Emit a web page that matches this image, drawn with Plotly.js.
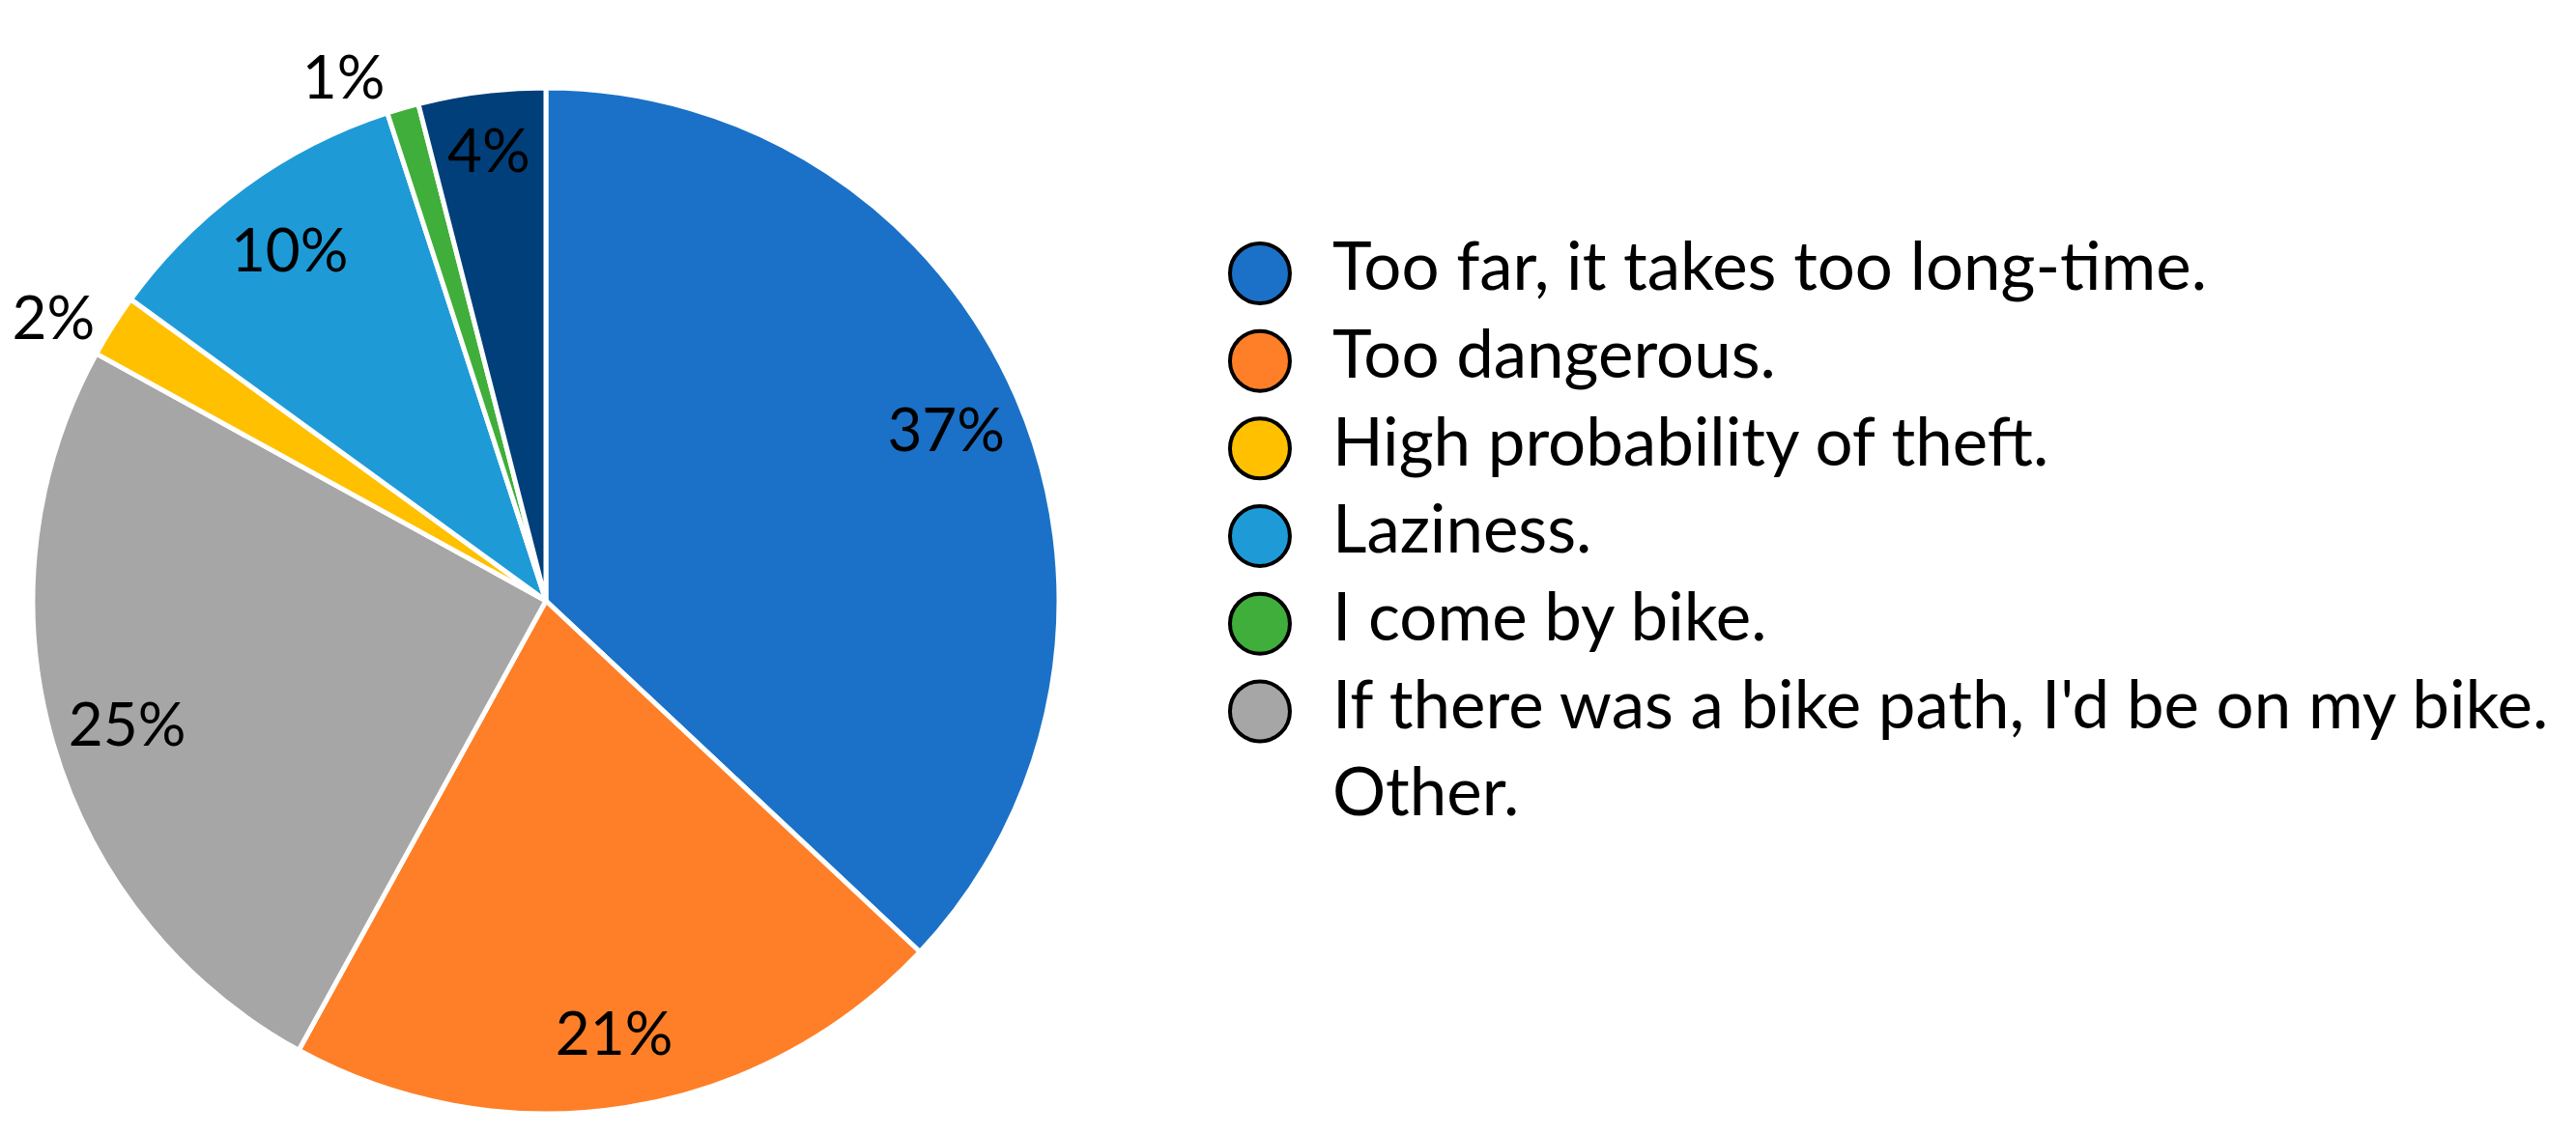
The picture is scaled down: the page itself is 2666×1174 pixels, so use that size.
<!DOCTYPE html>
<html>
<head>
<meta charset="utf-8">
<script src="https://cdn.plot.ly/plotly-3.0.1.min.js"></script>
<style>html,body{margin:0;padding:0;background:#fff}</style>
</head>
<body>
<div id="graphDiv"></div>
<script>
// slices in the order they run clockwise from 12 o'clock
const reasons = ["Too far, it takes too long-time.", "Too dangerous.", "If there was a bike path, I'd be on my bike.", "High probability of theft.", "Laziness.", "I come by bike.", "Other."];
const shares = [37, 21, 25, 2, 10, 1, 4];
const sliceColors = ["#1B71C7", "#FE7F27", "#A6A6A6", "#FFC000", "#1E9BD7", "#40AE3A", "#013F7A"];
const labelPlace = ["inside", "inside", "inside", "outside", "inside", "outside", "inside"];

// legend runs in another order, and the last entry has no dot in the source
const legendOrder = [0, 1, 3, 4, 5, 2, 6];
const legendHasDot = [true, true, true, true, true, true, false];

const FONT = "Lato, 'Open Sans', sans-serif";
const pieDomain = { x: [0.01275, 0.4111], y: [0.0179, 0.9225] };

const legendLabels = legendOrder.map((i) => reasons[i]);
const dotFill = legendOrder.map((i, k) => legendHasDot[k] ? sliceColors[i] : "rgba(0,0,0,0)");
const dotEdge = legendHasDot.map((d) => d ? "#000" : "rgba(0,0,0,0)");

const pieFill = {
    type: "pie",
    values: shares,
    labels: reasons,
    sort: false,
    direction: "clockwise",
    rotation: 0,
    marker: { colors: sliceColors, line: { color: "#fff", width: 5 } },
    textinfo: "none",
    domain: pieDomain,
    showlegend: false
};

// transparent ring on top, only to carry the percent labels near the rim
const pieText = {
    type: "pie",
    values: shares,
    labels: reasons,
    sort: false,
    direction: "clockwise",
    rotation: 0,
    hole: 0.7,
    marker: { colors: shares.map(() => "rgba(0,0,0,0)"), line: { width: 0 } },
    textinfo: "percent",
    textposition: labelPlace,
    insidetextorientation: "horizontal",
    textfont: { family: FONT, size: 62, color: "#000" },
    insidetextfont: { family: FONT, size: 62, color: "#000" },
    outsidetextfont: { family: FONT, size: 62, color: "#000" },
    domain: pieDomain,
    hoverinfo: "skip",
    showlegend: false
};

const legendDots = {
    type: "scatter",
    mode: "markers",
    x: legendLabels.map(() => 0),
    y: legendLabels,
    marker: { size: 62, color: dotFill, line: { color: dotEdge, width: 4 } },
    cliponaxis: false,
    hoverinfo: "skip",
    showlegend: false
};

const legendText = {
    type: "scatter",
    mode: "text",
    x: legendLabels.map(() => 1),
    y: legendLabels,
    text: legendLabels,
    textposition: "middle right",
    textfont: { family: FONT, size: 69, color: "#000" },
    cliponaxis: false,
    hoverinfo: "skip",
    showlegend: false
};

const layout = {
    width: 2666,
    height: 1174,
    margin: { l: 0, r: 0, t: 0, b: 0 },
    paper_bgcolor: "#fff",
    plot_bgcolor: "rgba(0,0,0,0)",
    showlegend: false,
    font: { family: FONT, color: "#000" },
    xaxis: { domain: [0.45, 1], range: [-1.39, 18.16], visible: false, fixedrange: true },
    yaxis: { domain: [0.2569, 0.7976], range: [6.5, -0.5], type: "category", visible: false, fixedrange: true }
};

Plotly.newPlot("graphDiv", [pieFill, pieText, legendDots, legendText], layout, { displayModeBar: false });
</script>
</body>
</html>
